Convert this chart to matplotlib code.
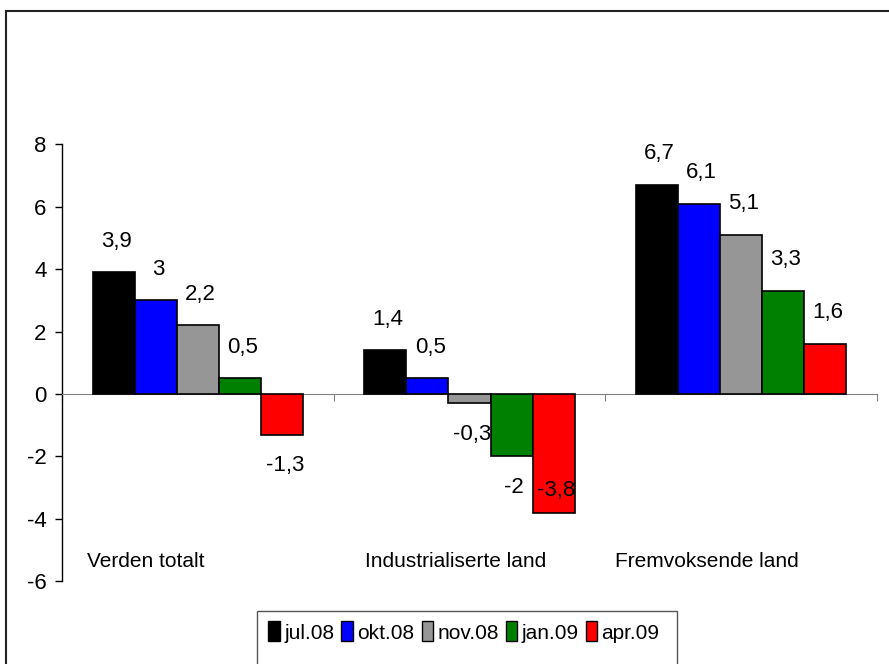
import matplotlib
matplotlib.use("Agg")
import matplotlib.pyplot as plt
from matplotlib.patches import Rectangle, Patch
import numpy as np

plt.rcParams['font.family'] = ['Liberation Sans', 'DejaVu Sans']

categories = ["Verden totalt", "Industrialiserte land", "Fremvoksende land"]
series = ["jul.08", "okt.08", "nov.08", "jan.09", "apr.09"]
jul08 = [3.9, 1.4, 6.7]
okt08 = [3.0, 0.5, 6.1]
nov08 = [2.2, -0.3, 5.1]
jan09 = [0.5, -2.0, 3.3]
apr09 = [-1.3, -3.8, 1.6]
colors = ["#000000", "#0000ff", "#969696", "#008000", "#ff0000"]
yticks = [-6, -4, -2, 0, 2, 4, 6, 8]

W, H = 889, 664
fig = plt.figure(figsize=(W / 100, H / 100), dpi=100)
ax = fig.add_axes([62 / W, (H - 581.3) / H, (877 - 62) / W, (581.3 - 144.3) / H])

x = np.arange(len(categories))
width = 0.155
values = [jul08, okt08, nov08, jan09, apr09]
for k, (vals, col) in enumerate(zip(values, colors)):
    pos = x + (k - 2) * width
    ax.bar(pos, vals, width, color=col, edgecolor="black", linewidth=1.2, zorder=3)
    for i, (px, v) in enumerate(zip(pos, vals)):
        if v >= 0:
            ly = v + 1.0
        elif v < -3:
            ly = v + 0.7  # label sits inside the deep bar
        else:
            ly = v - 1.0
        txt = ("%g" % v).replace(".", ",")
        ax.text(px + 0.01, ly, txt, ha="center", va="center", fontsize=16, zorder=4)

ax.set_xlim(-0.5, 2.5)
ax.set_ylim(-6, 8)
ax.set_yticks(yticks)
ax.set_yticklabels([str(t) for t in yticks], fontsize=16)
ax.tick_params(axis="y", direction="out", length=5, width=1, pad=6)
ax.spines["top"].set_visible(False)
ax.spines["right"].set_visible(False)
ax.spines["bottom"].set_position(("data", 0))
ax.spines["bottom"].set_color("#808080")
ax.spines["left"].set_linewidth(1)
ax.set_xticks([-0.5, 0.5, 1.5, 2.5])
ax.set_xticklabels([])
ax.tick_params(axis="x", direction="out", length=5, color="#808080")

# category labels
label_offsets = [-0.19, -0.05, -0.125]
for i, (c, off) in enumerate(zip(categories, label_offsets)):
    ax.text(i + off, -5.37, c, ha="center", va="center", fontsize=15)

# outer frame (cut off at right and bottom)
fig.patches.append(Rectangle((6 / W, -0.1), 1.1, 1.1 - 11 / H, transform=fig.transFigure,
                             fill=False, edgecolor="#222222", linewidth=1.5))

# legend box
fig.patches.append(Rectangle((257 / W, -0.05), (677 - 257) / W, (H - 611) / H + 0.05,
                             transform=fig.transFigure, fill=False, edgecolor="#555555", linewidth=1))
handles = [Patch(facecolor=c, edgecolor="black", linewidth=1) for c in colors]
fig.legend(handles, series, loc="center", bbox_to_anchor=(464 / W, (H - 632) / H), ncol=5,
           frameon=False, fontsize=15, handlelength=0.55, handleheight=1.1, handletextpad=0.2,
           columnspacing=0.35, borderpad=0)

fig.savefig("out.png", dpi=100)
